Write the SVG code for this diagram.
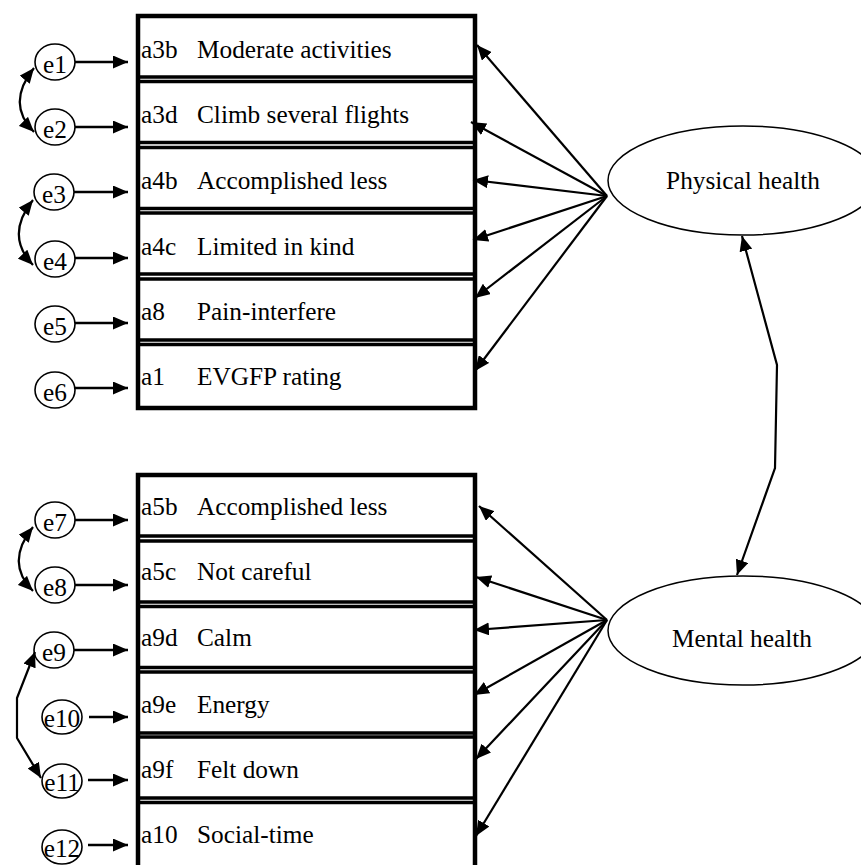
<svg xmlns="http://www.w3.org/2000/svg" width="861" height="865" viewBox="0 0 861 865">
<style>
.row{fill:#fff;stroke:#000;stroke-width:3.5}
.frame{fill:none;stroke:#000;stroke-width:4.5}
.t{font-family:"Liberation Serif","Times New Roman",serif;font-size:25.3px;fill:#000}
.c{text-anchor:middle}
.err{fill:#fff;stroke:#000;stroke-width:1.6}
.lat{fill:#fff;stroke:#000;stroke-width:1.5}
.ln{fill:none;stroke:#000;stroke-width:2.2;marker-end:url(#ah)}
.ea{fill:none;stroke:#000;stroke-width:2.5;marker-end:url(#ah)}
.cv{fill:none;stroke:#000;stroke-width:2.2;marker-start:url(#ah);marker-end:url(#ah)}
</style>
<defs>
<marker id="ah" viewBox="0 0 15 13" refX="15" refY="6.5" markerWidth="15" markerHeight="13" markerUnits="userSpaceOnUse" orient="auto-start-reverse">
<path d="M0,0 L15,6.5 L0,13 z" fill="#000"/>
</marker>
</defs>
<rect width="861" height="865" fill="#fff"/>

<!-- observed variables: physical -->
<g id="a3b"><rect class="row" x="138" y="16" width="337" height="61"/><text class="t" x="141" y="58">a3b</text><text class="t" x="197" y="58">Moderate activities</text></g>
<g id="a3d"><rect class="row" x="138" y="81.5" width="337" height="61"/><text class="t" x="141" y="123">a3d</text><text class="t" x="197" y="123">Climb several flights</text></g>
<g id="a4b"><rect class="row" x="138" y="147.5" width="337" height="61"/><text class="t" x="141" y="189">a4b</text><text class="t" x="197" y="189">Accomplished less</text></g>
<g id="a4c"><rect class="row" x="138" y="213" width="337" height="61"/><text class="t" x="141" y="255">a4c</text><text class="t" x="197" y="255">Limited in kind</text></g>
<g id="a8"><rect class="row" x="138" y="279" width="337" height="61"/><text class="t" x="141" y="320">a8</text><text class="t" x="197" y="320">Pain-interfere</text></g>
<g id="a1"><rect class="row" x="138" y="344.5" width="337" height="63.5"/><text class="t" x="141" y="385">a1</text><text class="t" x="197" y="385">EVGFP rating</text></g>

<!-- observed variables: mental -->
<g id="a5b"><rect class="row" x="138" y="475" width="337" height="61"/><text class="t" x="141" y="515">a5b</text><text class="t" x="197" y="515">Accomplished less</text></g>
<g id="a5c"><rect class="row" x="138" y="541" width="337" height="61"/><text class="t" x="141" y="580">a5c</text><text class="t" x="197" y="580">Not careful</text></g>
<g id="a9d"><rect class="row" x="138" y="606.5" width="337" height="61"/><text class="t" x="141" y="646">a9d</text><text class="t" x="197" y="646">Calm</text></g>
<g id="a9e"><rect class="row" x="138" y="672" width="337" height="61"/><text class="t" x="141" y="713">a9e</text><text class="t" x="197" y="713">Energy</text></g>
<g id="a9f"><rect class="row" x="138" y="737" width="337" height="61"/><text class="t" x="141" y="778">a9f</text><text class="t" x="197" y="778">Felt down</text></g>
<g id="a10"><rect class="row" x="138" y="802.5" width="337" height="70"/><text class="t" x="141" y="843">a10</text><text class="t" x="197" y="843">Social-time</text></g>

<g id="frames">
<rect class="frame" x="138" y="16" width="337" height="392"/>
<rect class="frame" x="138" y="475" width="337" height="400"/>
</g>

<!-- error terms -->
<g id="e1"><ellipse class="err" cx="55" cy="62" rx="20" ry="18"/><text class="t c" x="55" y="73">e1</text></g>
<g id="e2"><ellipse class="err" cx="55" cy="127" rx="20" ry="18"/><text class="t c" x="55" y="138">e2</text></g>
<g id="e3"><ellipse class="err" cx="54" cy="192" rx="20" ry="18"/><text class="t c" x="54" y="203">e3</text></g>
<g id="e4"><ellipse class="err" cx="55" cy="259" rx="20" ry="18"/><text class="t c" x="55" y="270">e4</text></g>
<g id="e5"><ellipse class="err" cx="55" cy="324" rx="20" ry="18"/><text class="t c" x="55" y="335">e5</text></g>
<g id="e6"><ellipse class="err" cx="55" cy="390" rx="20" ry="18"/><text class="t c" x="55" y="401">e6</text></g>
<g id="e7"><ellipse class="err" cx="55" cy="520" rx="20" ry="18"/><text class="t c" x="55" y="531">e7</text></g>
<g id="e8"><ellipse class="err" cx="55" cy="585" rx="20" ry="18"/><text class="t c" x="55" y="596">e8</text></g>
<g id="e9"><ellipse class="err" cx="54" cy="650" rx="20" ry="18"/><text class="t c" x="54" y="661">e9</text></g>
<g id="e10"><ellipse class="err" cx="62" cy="717" rx="20" ry="17"/><text class="t c" x="62" y="727">e10</text></g>
<g id="e11"><ellipse class="err" cx="62" cy="781" rx="20" ry="17"/><text class="t c" x="62" y="791">e11</text></g>
<g id="e12"><ellipse class="err" cx="62" cy="847" rx="20" ry="17"/><text class="t c" x="62" y="857">e12</text></g>

<!-- latent factors -->
<g id="physical"><ellipse class="lat" cx="743" cy="180.5" rx="135" ry="54.5"/><text class="t c" x="743" y="189">Physical health</text></g>
<g id="mental"><ellipse class="lat" cx="743" cy="630.5" rx="135" ry="54.5"/><text class="t c" x="742" y="647">Mental health</text></g>

<g id="connectors">
<path class="ea" d="M75 62 H128"/>
<path class="ea" d="M75 127 H128"/>
<path class="ea" d="M74 192 H128"/>
<path class="ea" d="M75 258 H128"/>
<path class="ea" d="M75 323 H128"/>
<path class="ea" d="M75 388 H128"/>
<path class="ea" d="M75 520 H128"/>
<path class="ea" d="M75 585 H128"/>
<path class="ea" d="M74 650 H128"/>
<path class="ea" d="M89 717 H128"/>
<path class="ea" d="M88 780 H128"/>
<path class="ea" d="M88 845 H128"/>

<path class="ln" d="M607 196 L477 45"/>
<path class="ln" d="M607 196 L471 122"/>
<path class="ln" d="M607 196 L473 180"/>
<path class="ln" d="M607 196 L473 240"/>
<path class="ln" d="M607 196 L475 298"/>
<path class="ln" d="M607 196 L475 371"/>

<path class="ln" d="M607 620 L479 506"/>
<path class="ln" d="M607 620 L476 577"/>
<path class="ln" d="M607 620 L474 630"/>
<path class="ln" d="M607 620 L474 695"/>
<path class="ln" d="M607 620 L476 759"/>
<path class="ln" d="M607 620 L476 836"/>

<path class="cv" d="M742 236 L777 365 L775 468 L737 575"/>

<path class="cv" d="M34 68 C18 88, 12 110, 34 132"/>
<path class="cv" d="M33 200 C17 220, 11 242, 33 265"/>
<path class="cv" d="M33 527 C17 547, 11 569, 33 591"/>
<path class="cv" d="M35 652 L17 698 L17 738 L41 778"/>
</g>
</svg>
